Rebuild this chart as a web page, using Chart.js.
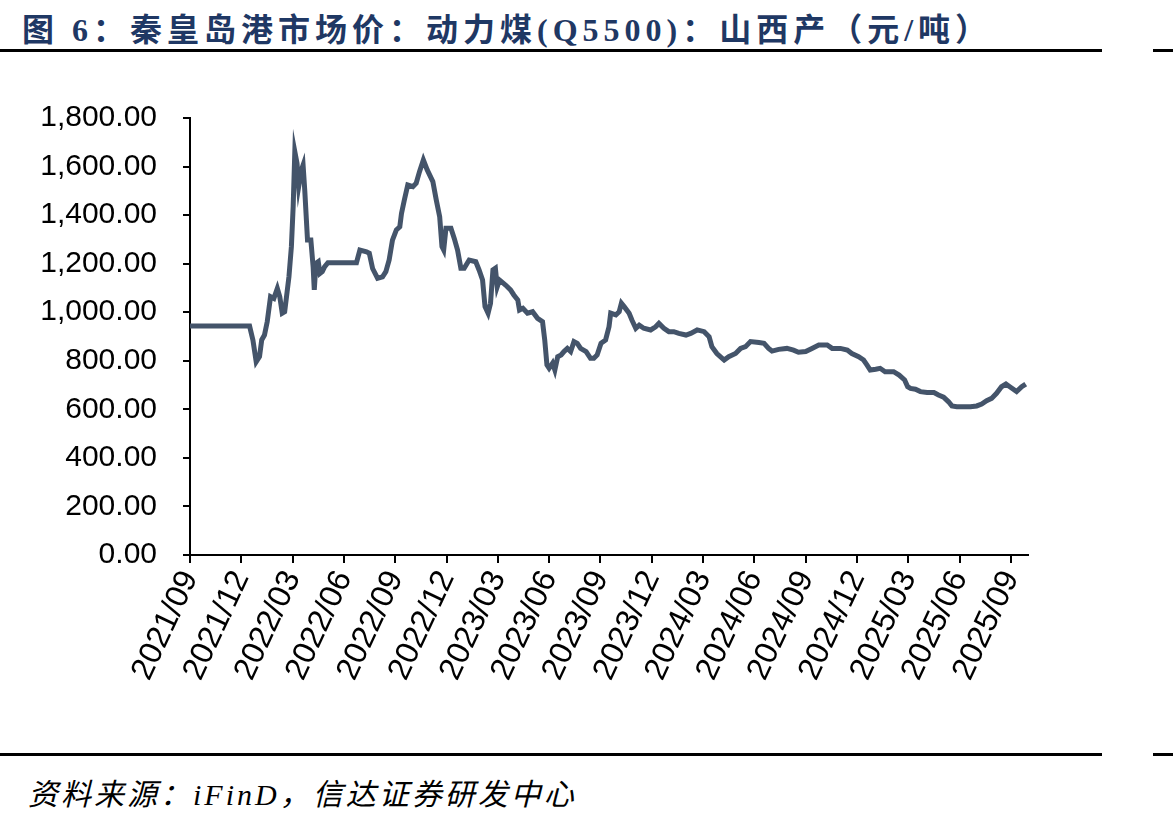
<!DOCTYPE html>
<html>
<head>
<meta charset="utf-8">
<script src="https://cdn.jsdelivr.net/npm/chart.js@4.4.1/dist/chart.umd.min.js"></script>
<style>
    body { margin: 0; background: #fff; width: 1173px; height: 822px; position: relative; overflow: hidden; }
    #title {
        position: absolute; left: 22px; top: 4px; white-space: nowrap;
        font: bold 32px "Liberation Serif", "Noto Sans CJK SC", serif;
        color: #1f3864; letter-spacing: 5px;
    }
    .rule { position: absolute; height: 3px; background: #000; }
    #chartBox { position: absolute; left: 0; top: 60px; width: 1173px; height: 690px; }
    #source {
        position: absolute; left: 28px; top: 770px; white-space: nowrap;
        font: italic 30px "Liberation Serif", "Noto Sans CJK SC", serif;
        color: #000; letter-spacing: 3px;
    }
</style>
</head>
<body>
<div id="title">图 6：秦皇岛港市场价：动力煤(Q5500)：山西产（元/吨）</div>
<div class="rule" style="left:0;top:49px;width:1102px;"></div>
<div class="rule" style="left:1153px;top:49px;width:20px;"></div>
<div id="chartBox"><canvas id="chart"></canvas></div>
<div class="rule" style="left:0;top:753px;width:1102px;"></div>
<div class="rule" style="left:1153px;top:753px;width:20px;"></div>
<div id="source">资料来源：iFinD，信达证券研发中心</div>

<script>
// 秦皇岛港 动力煤(Q5500) 山西产 市场价, 元/吨
const dates = [
    '2021-09-01', '2021-12-16', '2021-12-22', '2021-12-28', '2022-01-03', '2022-01-07', '2022-01-12',
    '2022-01-17', '2022-01-23', '2022-01-29', '2022-02-04', '2022-02-08', '2022-02-12', '2022-02-16',
    '2022-02-19', '2022-02-23', '2022-02-27', '2022-03-02', '2022-03-05', '2022-03-09', '2022-03-12',
    '2022-03-17', '2022-03-20', '2022-03-23', '2022-03-28', '2022-04-03', '2022-04-07', '2022-04-09',
    '2022-04-12', '2022-04-16', '2022-04-19', '2022-04-23', '2022-04-27', '2022-05-03', '2022-06-23',
    '2022-06-29', '2022-07-11', '2022-07-16', '2022-07-22', '2022-07-31', '2022-08-09', '2022-08-15',
    '2022-08-21', '2022-08-27', '2022-09-03', '2022-09-09', '2022-09-12', '2022-09-17', '2022-09-23',
    '2022-10-02', '2022-10-08', '2022-10-14', '2022-10-21', '2022-10-28', '2022-11-07', '2022-11-13',
    '2022-11-19', '2022-11-23', '2022-11-26', '2022-11-30', '2022-12-09', '2022-12-15', '2022-12-21',
    '2022-12-27', '2023-01-02', '2023-01-11', '2023-01-23', '2023-01-29', '2023-02-04', '2023-02-08',
    '2023-02-13', '2023-02-17', '2023-02-21', '2023-02-25', '2023-02-28', '2023-03-04', '2023-03-15',
    '2023-03-24', '2023-03-30', '2023-04-06', '2023-04-09', '2023-04-15', '2023-04-23', '2023-05-02',
    '2023-05-11', '2023-05-20', '2023-05-24', '2023-05-28', '2023-06-01', '2023-06-07', '2023-06-11',
    '2023-06-16', '2023-06-22', '2023-06-27', '2023-07-03', '2023-07-09', '2023-07-15', '2023-07-21',
    '2023-07-27', '2023-08-06', '2023-08-14', '2023-08-20', '2023-08-26', '2023-09-02', '2023-09-10',
    '2023-09-16', '2023-09-19', '2023-09-28', '2023-10-04', '2023-10-08', '2023-10-13', '2023-10-22',
    '2023-10-27', '2023-11-03', '2023-11-09', '2023-11-17', '2023-11-29', '2023-12-08', '2023-12-14',
    '2023-12-23', '2024-01-01', '2024-01-10', '2024-01-19', '2024-02-01', '2024-02-09', '2024-02-20',
    '2024-03-03', '2024-03-12', '2024-03-17', '2024-03-26', '2024-04-08', '2024-04-16', '2024-04-28',
    '2024-05-07', '2024-05-16', '2024-05-25', '2024-06-09', '2024-06-18', '2024-06-26', '2024-07-02',
    '2024-07-14', '2024-07-29', '2024-08-10', '2024-08-19', '2024-09-01', '2024-09-12', '2024-09-24',
    '2024-10-09', '2024-10-18', '2024-11-02', '2024-11-14', '2024-11-22', '2024-12-04', '2024-12-13',
    '2024-12-19', '2024-12-25', '2025-01-04', '2025-01-12', '2025-01-21', '2025-02-05', '2025-02-14',
    '2025-02-23', '2025-02-28', '2025-03-05', '2025-03-14', '2025-03-23', '2025-04-04', '2025-04-16',
    '2025-04-24', '2025-05-03', '2025-05-12', '2025-05-18', '2025-05-27', '2025-06-08', '2025-06-20',
    '2025-07-01', '2025-07-10', '2025-07-19', '2025-07-28', '2025-08-06', '2025-08-15', '2025-08-23',
    '2025-08-30', '2025-09-11', '2025-09-20', '2025-09-27'
];
const prices = [
    943, 943, 886, 796, 817, 886, 906,
    961, 1064, 1057, 1098, 1064, 996, 1002,
    1064, 1146, 1270, 1435, 1661, 1613, 1517,
    1586, 1606, 1503, 1297, 1297, 1187, 1092,
    1201, 1208, 1160, 1167, 1187, 1204, 1204,
    1256, 1249, 1243, 1180, 1140, 1146, 1167,
    1215, 1297, 1339, 1352, 1407, 1462, 1524,
    1517, 1531, 1579, 1627, 1586, 1538, 1462,
    1393, 1270, 1256, 1346, 1346, 1304, 1256,
    1181, 1181, 1215, 1208, 1174, 1133, 1023,
    996, 1037, 1174, 1181, 1105, 1133, 1112,
    1092, 1071, 1050, 1009, 1016, 996, 1002,
    975, 961, 886, 783, 769, 790, 762,
    817, 824, 838, 851, 838, 879, 872,
    851, 838, 810, 810, 824, 872, 886,
    940, 996, 989, 1002, 1037, 1023, 996,
    968, 934, 947, 934, 927, 940, 954,
    934, 920, 920, 913, 906, 913, 927,
    920, 899, 858, 830, 803, 817, 830,
    851, 858, 879, 875, 872, 851, 840,
    847, 851, 844, 835, 838, 851, 865,
    865, 851, 851, 844, 830, 817, 803,
    783, 762, 765, 769, 755, 755, 741,
    721, 693, 686, 683, 673, 669, 669,
    659, 650, 631, 614, 611, 611, 611,
    614, 622, 636, 645, 666, 693, 704,
    693, 673, 693, 704
];
const tickLabels = [
    '2021/09', '2021/12', '2022/03', '2022/06', '2022/09', '2022/12', '2023/03', '2023/06',
    '2023/09', '2023/12', '2024/03', '2024/06', '2024/09', '2024/12', '2025/03', '2025/06', '2025/09'
];
const yTicks = [0, 200, 400, 600, 800, 1000, 1200, 1400, 1600, 1800];

// x 轴用“距 2021/09 的月数”
function toMonths(s) {
    var p = s.split('-').map(Number);
    var days = new Date(p[0], p[1], 0).getDate();
    return (p[0] - 2021) * 12 + (p[1] - 9) + (p[2] - 1) / days;
}

var points = dates.map(function (d, i) { return { x: toMonths(d), y: prices[i] }; });

new Chart(document.getElementById('chart').getContext('2d'), {
    type: 'line',
    data: {
        datasets: [{
            data: points,
            borderColor: '#44546a',
            borderWidth: 5,
            pointRadius: 0,
            tension: 0,
            fill: false,
        }]
    },
    options: {
        responsive: true,
        maintainAspectRatio: false,
        animation: false,
        layout: { padding: { top: 58, right: 145, left: 0, bottom: 0 } },
        plugins: { legend: { display: false }, tooltip: { enabled: false } },
        scales: {
            x: {
                type: 'linear',
                min: 0,
                max: 49,
                afterBuildTicks: function (scale) {
                    scale.ticks = tickLabels.map(function (t, i) { return { value: i * 3 }; });
                },
                afterFit: function (scale) { scale.height = 195; },
                grid: { drawOnChartArea: false, drawTicks: true, tickLength: 8, color: '#000', lineWidth: 2 },
                border: { display: true, color: '#000', width: 2 },
                ticks: {
                    autoSkip: false,
                    minRotation: 65,
                    maxRotation: 65,
                    padding: 2,
                    color: '#000',
                    font: { family: '"Liberation Sans", Arial, sans-serif', size: 32 },
                    callback: function (v, i) { return tickLabels[i]; }
                }
            },
            y: {
                min: 0,
                max: 1800,
                afterBuildTicks: function (scale) {
                    scale.ticks = yTicks.map(function (v) { return { value: v }; });
                },
                afterFit: function (scale) { scale.width = 190; },
                grid: { drawOnChartArea: false, drawTicks: true, tickLength: 7, color: '#000', lineWidth: 2 },
                border: { display: true, color: '#000', width: 2 },
                ticks: {
                    padding: 26,
                    color: '#000',
                    font: { family: '"Liberation Sans", Arial, sans-serif', size: 30 },
                    callback: function (v) {
                        return v.toLocaleString('en-US', { minimumFractionDigits: 2, maximumFractionDigits: 2 });
                    }
                }
            }
        }
    }
});
</script>
</body>
</html>
